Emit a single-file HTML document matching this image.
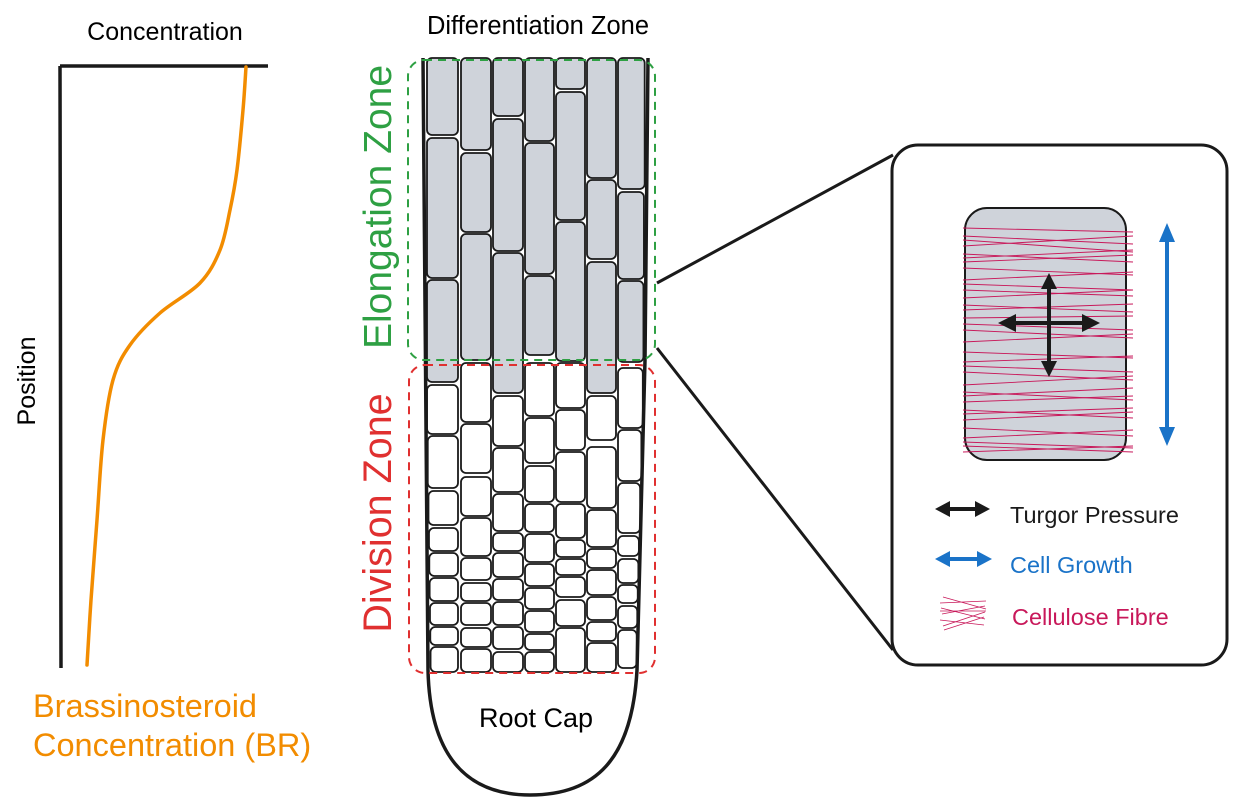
<!DOCTYPE html>
<html><head><meta charset="utf-8"><style>
html,body{margin:0;padding:0;background:#fff}
svg{display:block;font-family:"Liberation Sans",Arial,sans-serif}
</style></head><body>
<svg width="1235" height="803" viewBox="0 0 1235 803">
<g>
<text x="165" y="40" font-size="25" text-anchor="middle">Concentration</text>
<text transform="translate(35,381) rotate(-90)" font-size="25" text-anchor="middle">Position</text>
<path d="M60,66 L268,66 M60,66 L61,668" stroke="#1a1a1a" stroke-width="3.5" fill="none"/>
<path id="brcurve" stroke="#f28c00" stroke-width="3.5" fill="none" stroke-linecap="round"/>
<text x="33" y="717" font-size="32.5" fill="#f28c00">Brassinosteroid</text>
<text x="33" y="756" font-size="32.5" fill="#f28c00">Concentration (BR)</text>
</g>
<g>
<text x="538" y="34" font-size="25.5" text-anchor="middle">Differentiation Zone</text>
<g id="cells"></g>
<path d="M423,58 L428,670 C430,760 470,795 530,795 C595,795 632,760 637,670 L645,360 L648,58" stroke="#1a1a1a" stroke-width="3.5" fill="none"/>
<text x="536" y="727" font-size="27" text-anchor="middle">Root Cap</text>
<rect x="408" y="60" width="247" height="300" rx="16" fill="none" stroke="#2ea043" stroke-width="2" stroke-dasharray="8,6"/>
<rect x="409" y="365" width="246" height="308" rx="16" fill="none" stroke="#e03030" stroke-width="2" stroke-dasharray="8,6"/>
<text transform="translate(391,207) rotate(-90)" font-size="39" fill="#2ea043" text-anchor="middle">Elongation Zone</text>
<text transform="translate(391,513) rotate(-90)" font-size="39.5" fill="#e03030" text-anchor="middle">Division Zone</text>
</g>
<path d="M657,283 L893,155 M657,348 L893,650" stroke="#1a1a1a" stroke-width="3"/>
<g>
<rect x="892" y="145" width="335" height="520" rx="26" fill="#fff" stroke="#1a1a1a" stroke-width="3"/>
<rect x="965" y="208" width="161" height="252" rx="22" fill="#cfd3da" stroke="#1a1a1a" stroke-width="2"/>
<g id="fibres" stroke="#c8185a" stroke-width="0.9"></g>
<g fill="#1a1a1a" stroke="#1a1a1a">
<path d="M1007,323 L1092,323 M1049,280 L1049,370" stroke-width="4"/>
<path d="M998,323 L1016,314 L1016,332Z M1100,323 L1082,314 L1082,332Z M1049,273 L1041,289 L1057,289Z M1049,377 L1041,361 L1057,361Z" stroke="none"/>
</g>
<g fill="#1a73c8">
<path d="M1167,236 L1167,433" stroke="#1a73c8" stroke-width="4"/>
<path d="M1167,223 L1159,242 L1175,242Z M1167,446 L1159,427 L1175,427Z"/>
</g>
<g>
<g>
<path d="M945,509 L980,509" stroke="#1a1a1a" stroke-width="4"/>
<path d="M935,509 L950,501 L950,517Z M990,509 L975,501 L975,517Z" fill="#1a1a1a"/>
<text x="1010" y="523" font-size="23.5" fill="#1a1a1a">Turgor Pressure</text>
</g>
<g>
<path d="M945,559 L980,559" stroke="#1a73c8" stroke-width="4"/>
<path d="M935,559 L950,551 L950,567Z M992,559 L977,551 L977,567Z" fill="#1a73c8"/>
<text x="1010" y="573" font-size="23.5" fill="#1a73c8">Cell Growth</text>
</g>
<g stroke="#c8185a" stroke-width="0.8">
<path d="M943,597 L986,609 M940,603 L986,601 M941,608 L985,619 M942,614 L985,606 M940,620 L984,625 M943,626 L985,612 M944,630 L984,617 M940,611 L986,611"/>
<text x="1012" y="625" font-size="23.5" fill="#c8185a" stroke="none">Cellulose Fibre</text>
</g>
</g>
</g>
</svg>
<script>
// BR concentration profile: position (y px) vs concentration (x px)
const brPosition = [67,110,170,210,250,283,313,345,380,440,520,600,665];
const brConcentration = [246,243,237,230,220,200,160,130,113,103,97,91,87];
(function(){
  let d='M'+brConcentration[0]+','+brPosition[0];
  for(let i=1;i<brPosition.length;i++){
    const x0=brConcentration[i-1],y0=brPosition[i-1],x1=brConcentration[i],y1=brPosition[i];
    const xm=brConcentration[Math.max(i-2,0)],ym=brPosition[Math.max(i-2,0)];
    const xn=brConcentration[Math.min(i+1,brPosition.length-1)],yn=brPosition[Math.min(i+1,brPosition.length-1)];
    d+=' C'+(x0+(x1-xm)/6)+','+(y0+(y1-ym)/6)+' '+(x1-(xn-x0)/6)+','+(y1-(yn-y0)/6)+' '+x1+','+y1;
  }
  document.getElementById('brcurve').setAttribute('d',d);
})();
const cols=[[427,458],[461,491],[493,523],[525,554],[556,585],[587,616],[618,645]];
const cellRows=[
 [[58,135,1],[138,278,1],[280,382,1],[385,434,0],[436,488,0],[491,525,0],[528,551,0],[553,576,0],[578,601,0],[603,625,0],[627,645,0],[647,672,0]],
 [[58,150,1],[153,232,1],[234,360,1],[363,422,0],[424,473,0],[477,516,0],[518,556,0],[558,580,0],[583,601,0],[603,625,0],[628,647,0],[649,672,0]],
 [[58,116,1],[119,251,1],[253,393,1],[396,446,0],[448,492,0],[494,531,0],[533,551,0],[553,577,0],[579,600,0],[602,625,0],[627,649,0],[652,672,0]],
 [[58,141,1],[143,274,1],[276,355,1],[363,416,0],[418,463,0],[466,502,0],[504,532,0],[534,562,0],[564,586,0],[588,609,0],[611,632,0],[634,650,0],[652,672,0]],
 [[58,89,1],[92,220,1],[222,361,1],[363,408,0],[410,450,0],[452,502,0],[504,538,0],[540,557,0],[559,575,0],[577,597,0],[600,626,0],[628,672,0]],
 [[58,178,1],[180,259,1],[262,393,1],[396,440,0],[447,508,0],[510,547,0],[549,568,0],[570,595,0],[597,620,0],[622,641,0],[643,672,0]],
 [[58,189,1],[192,279,1],[281,362,1],[368,428,0],[430,481,0],[483,533,0],[536,556,0],[559,583,0],[585,603,0],[606,628,0],[630,668,0]]
];
(function(){
  const g=document.getElementById('cells');
  const ns='http://www.w3.org/2000/svg';
  cellRows.forEach((col,ci)=>{
    col.forEach(c=>{
      let x0=cols[ci][0],x1=cols[ci][1];
      if(ci===0){x0+=Math.max(0,(c[0]-380)/300)*4;}
      if(ci===6){x1-=c[0]<360?(c[0]/360)*2:2+((c[0]-360)/300)*7;}
      const r=document.createElementNS(ns,'rect');
      r.setAttribute('x',x0);r.setAttribute('y',c[0]);
      r.setAttribute('width',x1-x0);r.setAttribute('height',c[1]-c[0]);
      r.setAttribute('rx',5);
      r.setAttribute('fill',c[2]?'#cfd3da':'#fff');
      r.setAttribute('stroke','#1a1a1a');r.setAttribute('stroke-width',1.8);
      
      
      g.appendChild(r);
    });
  });
  const f=document.getElementById('fibres');
  const fy=[[228,232],[236,244],[240,252],[246,236],[254,262],[258,250],[262,255],[268,275],[280,272],[284,290],[290,296],[298,290],[305,312],[310,304],[318,316],[324,330],[330,338],[342,334],[352,358],[362,356],[366,372],[372,380],[385,376],[392,400],[396,388],[402,396],[410,418],[414,408],[420,412],[428,436],[438,430],[442,448],[446,452],[452,446]];
  fy.forEach(p=>{
    const l=document.createElementNS(ns,'line');
    l.setAttribute('x1',963);l.setAttribute('y1',p[0]);
    l.setAttribute('x2',1133);l.setAttribute('y2',p[1]);
    
    
    f.appendChild(l);
  });
})();
</script>
</body></html>
